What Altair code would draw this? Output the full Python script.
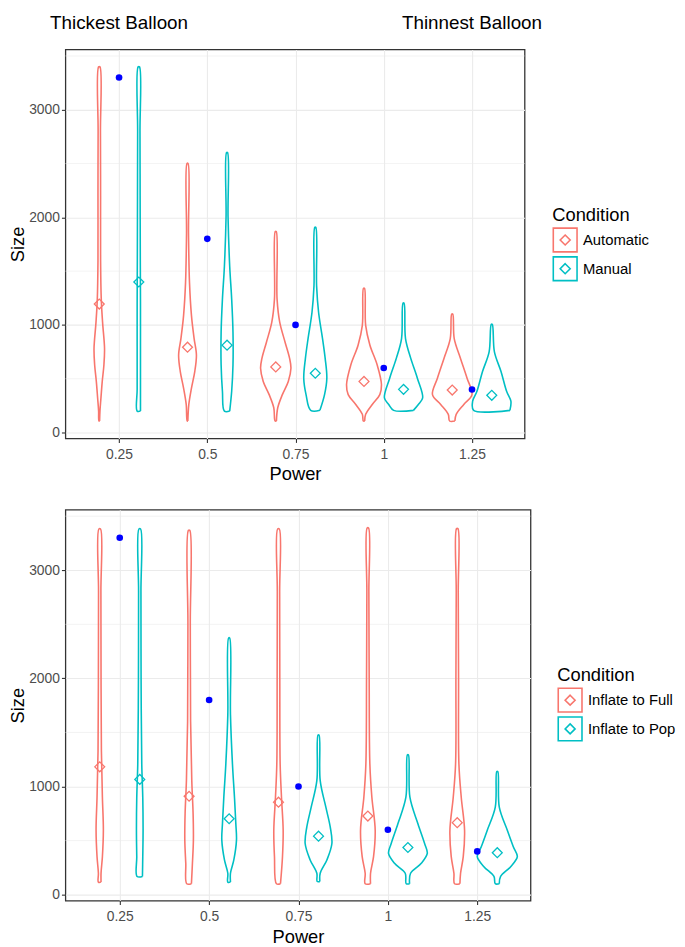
import altair as alt
import pandas as pd

# ---------------- data ----------------
POWERS = [0.25, 0.5, 0.75, 1.0, 1.25]
POWER_LABELS = ["0.25", "0.5", "0.75", "1", "1.25"]
DODGE = 0.056
TRUE_SIZE = [3300, 1800, 1000, 600, 400]          # blue dots
Y_TICKS = [0, 1000, 2000, 3000]
Y_MINOR = [500, 1500, 2500, 3500]
ANNOT_POWER = [0.25, 1.25]
ANNOT_TEXT = ["Thickest Balloon", "Thinnest Balloon"]

# ---- top panel: Automatic / Manual ----
TOP_GROUPS = ["Automatic", "Manual"]
TOP_MEANS = [[1194, 793, 610, 475, 395], [1399, 812, 551, 401, 346]]
# violin outlines: sizes (bottom -> top) and half widths (thousandths of Power)
TOP_AUTO_SIZES = [
    [107, 200, 321, 475, 628, 780, 1026, 1240, 1600, 2200, 2800, 3398],
    [107, 261, 413, 567, 720, 873, 1087, 1393, 1852, 2501],
    [107, 230, 352, 475, 597, 689, 842, 1026, 1240, 1868],
    [107, 169, 261, 352, 444, 628, 812, 995, 1341],
    [107, 169, 261, 352, 505, 689, 873, 1102],
]
TOP_AUTO_WIDTHS = [
    [0.9, 1.9, 4.7, 8.4, 13.1, 14.9, 9.3, 5.6, 3.7, 3.7, 3.3, 1.9],
    [0.9, 3.7, 11.2, 20.5, 25.2, 18.7, 11.2, 5.6, 2.8, 1.4],
    [1.9, 5.6, 18.7, 35.5, 43.0, 39.2, 26.2, 11.2, 3.7, 1.4],
    [1.9, 4.7, 23.4, 44.8, 49.5, 37.4, 16.8, 4.7, 1.4],
    [7.5, 11.2, 32.7, 56.0, 42.0, 23.4, 5.6, 1.4],
]
TOP_MANUAL_SIZES = [
    [199, 400, 800, 1200, 1600, 2200, 2800, 3398],
    [199, 383, 628, 934, 1240, 1546, 2005, 2602],
    [206, 352, 505, 689, 873, 1118, 1363, 1907],
    [206, 261, 321, 505, 689, 873, 1203],
    [206, 291, 383, 567, 750, 1005],
]
TOP_MANUAL_WIDTHS = [
    [4.7, 4.7, 4.7, 4.7, 4.2, 3.7, 3.3, 1.9],
    [7.5, 13.1, 16.8, 16.8, 13.1, 7.5, 2.8, 1.4],
    [13.1, 26.2, 32.7, 28.0, 20.5, 9.3, 3.7, 1.4],
    [28.0, 42.0, 54.2, 39.2, 20.5, 5.6, 1.4],
    [51.4, 54.2, 42.0, 26.2, 7.5, 1.4],
]

# ---- bottom panel: Inflate to Full / Inflate to Pop ----
BOT_GROUPS = ["Inflate to Full", "Inflate to Pop"]
BOT_MEANS = [[1182, 910, 855, 727, 666], [1066, 702, 541, 436, 388]]
BOT_FULL_SIZES = [
    [116, 198, 351, 596, 901, 1329, 2000, 2800, 3382],
    [101, 290, 504, 748, 1054, 1600, 2500, 3369],
    [101, 351, 596, 901, 1206, 2000, 2800, 3382],
    [101, 198, 351, 596, 901, 1206, 2000, 2800, 3391],
    [101, 198, 351, 596, 901, 1206, 2000, 2800, 3385],
]
BOT_FULL_WIDTHS = [
    [3.7, 3.7, 7.5, 10.2, 7.5, 4.7, 3.7, 3.3, 2.3],
    [6.5, 9.3, 12.0, 11.2, 7.5, 4.2, 3.3, 1.9],
    [5.6, 11.2, 13.1, 8.4, 4.7, 3.7, 3.3, 2.3],
    [7.5, 7.5, 15.9, 20.5, 11.2, 5.6, 3.7, 2.8, 1.9],
    [7.5, 9.3, 16.8, 20.5, 11.2, 4.7, 3.7, 2.8, 1.9],
]
BOT_POP_SIZES = [
    [168, 351, 596, 901, 1206, 2000, 2800, 3382],
    [116, 198, 321, 504, 656, 901, 1206, 1665, 2374],
    [122, 198, 321, 473, 626, 809, 1054, 1476],
    [101, 198, 290, 381, 473, 656, 901, 1292],
    [101, 168, 259, 351, 443, 596, 809, 1139],
]
BOT_POP_WIDTHS = [
    [7.5, 8.4, 9.3, 8.4, 5.6, 3.7, 3.3, 2.3],
    [3.7, 3.7, 13.1, 20.5, 18.7, 14.9, 9.3, 3.7, 1.4],
    [3.7, 4.7, 23.4, 37.4, 32.7, 20.5, 4.7, 1.4],
    [4.7, 7.5, 37.4, 54.2, 46.7, 28.0, 5.6, 1.4],
    [5.6, 9.3, 37.4, 56.0, 44.8, 28.0, 5.6, 1.4],
]

COLORS = ["#F8766D", "#00BFC4"]
X_DOMAIN = [0.098, 1.399]
Y_DOMAIN = [-55, 3560]
FONT = "Liberation Sans"
LEGEND_SYMBOL = "M-1,-1L1,-1L1,1L-1,1Z M0,-0.42L0.42,0L0,0.42L-0.42,0Z"
X_LABEL_EXPR = " : ".join(f"datum.value == {v} ? '{l}'" for v, l in zip(POWERS, POWER_LABELS)) + " : ''"


def violin_table(groups, sizes_pair, widths_pair):
    rows = []
    for gi, g in enumerate(groups):
        off = -DODGE if gi == 0 else DODGE
        for pi, p in enumerate(POWERS):
            c = p + off
            S = sizes_pair[gi][pi]
            W = widths_pair[gi][pi]
            pts = [(c + w / 1000.0, s) for s, w in zip(S, W)]
            pts += [(c - w / 1000.0, s) for s, w in reversed(list(zip(S, W)))]
            pts.append((c + W[0] / 1000.0, S[0]))
            for k, (x, y) in enumerate(pts):
                rows.append({"Condition": g, "vid": f"{g}-{p}", "ord": k, "x": x, "y": y})
    return pd.DataFrame(rows)


def mean_table(groups, means):
    rows = []
    for gi, g in enumerate(groups):
        off = -DODGE if gi == 0 else DODGE
        for pi, p in enumerate(POWERS):
            rows.append({"Condition": g, "x": p + off, "y": means[gi][pi]})
    return pd.DataFrame(rows)


def panel(groups, sizes_pair, widths_pair, means, width, height, legend_x, annotate):
    xenc = alt.X("x:Q", scale=alt.Scale(domain=X_DOMAIN, nice=False, zero=False),
                 axis=alt.Axis(values=POWERS, labelExpr=X_LABEL_EXPR, title="Power",
                               labelPadding=5, titlePadding=4, grid=True))
    yenc = alt.Y("y:Q", scale=alt.Scale(domain=Y_DOMAIN, nice=False, zero=False),
                 axis=alt.Axis(values=Y_TICKS, format="d", title="Size",
                               labelPadding=2, titlePadding=1, grid=True))
    color = alt.Color("Condition:N",
                      scale=alt.Scale(domain=groups, range=COLORS),
                      legend=alt.Legend(orient="none", legendX=legend_x, legendY=158,
                                        title="Condition", symbolType=LEGEND_SYMBOL,
                                        symbolSize=576, symbolStrokeWidth=1.6,
                                        symbolFillColor="transparent",
                                        rowPadding=-8, titlePadding=3, labelOffset=5,
                                        padding=0))

    minor = alt.Chart(pd.DataFrame({"y": Y_MINOR})).mark_rule(
        color="#EBEBEB", strokeWidth=0.6).encode(y=yenc)
    violins = alt.Chart(violin_table(groups, sizes_pair, widths_pair)).mark_line(
        strokeWidth=1.6, interpolate="catmull-rom").encode(
        x=xenc, y=yenc, color=color, detail="vid:N", order="ord:Q")
    diamonds = alt.Chart(mean_table(groups, means)).mark_point(
        shape="diamond", filled=False, size=100, strokeWidth=1.3, opacity=1).encode(
        x=xenc, y=yenc, color=color)
    dots = alt.Chart(pd.DataFrame({"x": POWERS, "y": TRUE_SIZE})).mark_circle(
        color="#0000FF", size=45, opacity=1).encode(x=xenc, y=yenc)
    layers = [minor, violins, diamonds, dots]
    if annotate:
        txt = alt.Chart(pd.DataFrame({"x": ANNOT_POWER, "label": ANNOT_TEXT})).mark_text(
            fontSize=19, font=FONT, baseline="top", align="center", color="black").encode(
            x=xenc, y=alt.value(-36), text="label:N")
        layers.append(txt)
    return alt.layer(*layers).properties(width=width, height=height)


top = panel(TOP_GROUPS, [TOP_AUTO_SIZES, TOP_MANUAL_SIZES],
            [TOP_AUTO_WIDTHS, TOP_MANUAL_WIDTHS], TOP_MEANS, 464, 393, 492, True)
bottom = panel(BOT_GROUPS, [BOT_FULL_SIZES, BOT_POP_SIZES],
               [BOT_FULL_WIDTHS, BOT_POP_WIDTHS], BOT_MEANS, 470, 395, 497, False)

chart = alt.vconcat(top, bottom, spacing=24).resolve_scale(color="independent").properties(
    padding={"left": 0, "top": 0, "right": 0, "bottom": 0}
).configure_view(
    stroke="#333333", strokeWidth=1.3
).configure_axis(
    gridColor="#EBEBEB", gridWidth=1.1, tickColor="#333333", tickSize=4, tickWidth=1.1,
    labelColor="#4D4D4D", labelFontSize=14, labelFont=FONT,
    titleFontSize=18.5, titleFont=FONT, titleColor="black", titleFontWeight="normal",
    domain=False
).configure_legend(
    titleFontSize=18.5, titleFont=FONT, titleFontWeight="normal", titleColor="black",
    labelFontSize=15, labelFont=FONT, labelColor="black"
)

chart.save("out.html", embed_options={"renderer": "svg", "actions": False})
